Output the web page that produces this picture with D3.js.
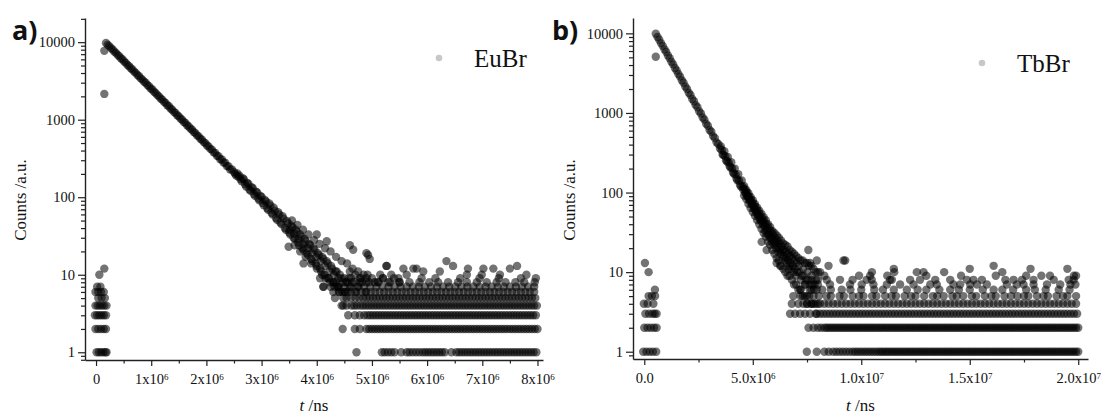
<!DOCTYPE html>
<html>
<head>
<meta charset="utf-8">
<script src="https://cdn.jsdelivr.net/npm/d3@7"></script>
<style>
  body { margin: 0; background: #fff; }
  svg text { font-family: "Liberation Serif", "Times New Roman", serif; fill: #111; }
</style>
</head>
<body>
<svg id="chart" width="1102" height="417"></svg>
<script>
// ---- panel a (EuBr): time in 1e6 ns, counts ----
const euEarly = [[0.01,1],[0.05,1],[0.09,1],[0.13,1],[0.17,1],[0.19,1],
  [-0.01,2],[0.04,2],[0.09,2],[0.14,2],[0.18,2],
  [-0.02,3],[0.02,3],[0.06,3],[0.1,3],[0.14,3],[0.18,3],
  [-0.01,4],[0.03,4],[0.07,4],[0.11,4],[0.15,4],[0.19,4],
  [0.04,5],[0.1,5],[0.16,5],[-0.01,6],[0.04,6],[0.09,6],[0.14,6],
  [0.02,7],[0.08,7],[0.06,10],[0.15,12],[0.15,2150],[0.15,7730]];

const euDecay = [[0.18,9780],[0.21,9260],[0.24,8890],[0.27,8390],[0.30,8050],[0.33,7590],[0.36,7280],[0.39,6870],
  [0.42,6600],[0.45,6210],[0.48,5980],[0.51,5630],[0.54,5410],[0.57,5090],[0.60,4900],[0.63,4610],[0.66,4430],
  [0.69,4170],[0.72,4020],[0.75,3780],[0.78,3640],[0.81,3410],[0.84,3290],[0.87,3090],[0.90,2990],[0.93,2800],
  [0.96,2700],[0.99,2530],[1.02,2450],[1.05,2290],[1.08,2210],[1.11,2080],[1.14,2000],[1.17,1880],[1.20,1815],
  [1.23,1700],[1.26,1645],[1.29,1540],[1.32,1490],[1.35,1395],[1.38,1345],[1.41,1262],[1.44,1220],[1.47,1140],
  [1.50,1104],[1.53,1035],[1.56,998],[1.59,936],[1.62,905],[1.65,848],[1.68,819],[1.71,768],[1.74,741],[1.77,694],
  [1.80,671],[1.83,628],[1.86,609],[1.89,568],[1.92,552],[1.95,514],[1.98,499],[2.01,464],[2.04,453],[2.07,420],
  [2.10,411],[2.13,379],[2.16,373],[2.19,343],[2.22,338],[2.25,309],[2.28,306],[2.31,280],[2.34,279],[2.37,252],
  [2.40,251],[2.43,228],[2.46,229]];

const euTail = [[2.50,212],[2.52,200],[2.54,190],[2.56,203],[2.58,184],[2.60,190],[2.62,170],[2.64,160],[2.66,176],
  [2.68,170],[2.70,147],[2.72,137],[2.74,153],[2.76,149],[2.78,126],[2.80,121],[2.82,135],[2.84,131],[2.86,110],
  [2.88,104],[2.90,118],[2.92,115],[2.94,96],[2.96,91],[2.98,104],[3.00,101],[3.02,84],[3.04,79],[3.06,92],
  [3.08,88],[3.10,72],[3.12,69],[3.14,83],[3.16,78],[3.18,63],[3.20,60],[3.22,73],[3.24,67],[3.26,54],[3.28,51],
  [3.30,64],[3.32,60],[3.34,47],[3.36,45],[3.38,57],[3.40,53],[3.42,40],[3.44,38],[3.46,49],[3.48,46],[3.50,35],
  [3.52,33],[3.54,43],[3.56,41],[3.58,30],[3.60,29],[3.62,38],[3.64,36],[3.66,26],[3.68,24],[3.70,33],[3.72,31],
  [3.74,22],[3.76,21],[3.78,29],[3.80,27],[3.82,19],[3.84,18],[3.86,25],[3.88,24],[3.90,16],[3.92,15],[3.94,22],
  [3.96,21],[3.98,14],[4.00,13],[4.02,19],[4.04,18],[4.06,12],[4.08,11],[4.10,17],[4.12,16],[4.14,10],[4.16,9],
  [4.18,15],[4.20,14],[4.22,9],[4.24,8],[4.26,13],[4.28,12],[4.30,8],[4.32,7],[4.34,11],[4.36,11],[4.38,7],
  [4.40,6],[4.42,10],[4.44,9],[4.46,6],[4.48,5],[4.50,9],[4.52,8],[4.56,6],[4.60,7],[4.64,8],[4.70,6],[4.76,7],
  [4.82,8],[4.88,6],[3.51,38],[3.59,34],[3.67,29],[3.75,25],[3.83,22],[3.91,19],[3.99,17],[4.07,15],[4.15,13],
  [4.23,11],[4.31,10],[4.39,9],[4.47,8],
  [3.55,50],[3.60,24],[3.65,44],[3.70,20],[3.75,38],[3.80,17],[3.85,33],[3.90,14],[3.95,28],[4.00,12],[4.05,25],
  [4.10,10],[4.15,22],[4.20,9],[4.25,20],[4.30,8],[4.35,17],[4.40,7],[4.45,15],[4.50,6],[4.55,14],[4.60,11],
  [4.65,12],[4.70,10],[4.75,11],[4.80,9],[4.85,10],[4.90,8],[5.00,9],[5.10,8],[5.20,9],[5.30,8],[5.40,9],[5.50,8],
  [4.58,9],[4.68,8],[4.78,9],[4.92,10],[5.05,8],[5.15,10],[5.35,10]];

const euScatter = [[3.49,23],[3.76,14],[4.0,33],[4.06,9],[4.12,7],[4.18,27],[4.33,5],[4.48,4],[4.6,24],[4.66,21],
  [4.9,19],[4.96,16],[4.93,18],[5.26,13],[5.57,12],[5.75,12],[5.81,12],[6.35,15],[6.47,13],[6.74,12],[7.02,12],
  [7.2,12],[7.5,12],[7.63,13],[5.63,10],[5.93,11],[6.23,11],[6.72,10],[6.99,10],[7.32,10],[7.8,10],[5.27,13]];

const euRow1 = [4.72,5.18,5.23,5.29,5.35,5.41,5.53,5.63,5.68,5.74,5.80,5.86,5.92,5.97,6.02,6.07,6.12,6.17,6.22,6.27,
  6.32,6.44,6.53,6.58,6.63,6.68,6.73,6.78,6.83,6.88,6.93,6.98,7.03,7.08,7.13,7.18,7.23,7.28,7.33,7.38,7.43,7.48,
  7.53,7.58,7.63,7.68,7.73,7.78,7.83,7.88,7.93,7.98];
const euRow2 = [4.47,4.69,4.78,4.90,4.95,5.00,5.05,5.10,5.15,5.20,5.25,5.30,5.35,5.40,5.45,5.50,5.55,5.60,5.65,5.70,
  5.75,5.80,5.85,5.90,5.95,6.00,6.05,6.10,6.15,6.20,6.25,6.30,6.35,6.40,6.45,6.50,6.55,6.60,6.65,6.70,6.75,6.80,
  6.85,6.90,6.95,7.00,7.05,7.10,7.15,7.20,7.25,7.30,7.35,7.40,7.45,7.50,7.55,7.60,7.65,7.70,7.75,7.80,7.85,7.90,
  7.95,8.00];
const euRow3 = [4.57,4.69,4.78,4.86,4.92,4.97,5.02,5.07,5.12,5.17,5.22,5.27,5.32,5.37,5.42,5.47,5.52,5.57,5.62,5.67,
  5.72,5.77,5.82,5.87,5.92,5.97,6.02,6.07,6.12,6.17,6.22,6.27,6.32,6.37,6.42,6.47,6.52,6.57,6.62,6.67,6.72,6.77,
  6.82,6.87,6.92,6.97,7.02,7.07,7.12,7.17,7.22,7.27,7.32,7.37,7.42,7.47,7.52,7.57,7.62,7.67,7.72,7.77,7.82,7.87,
  7.92,7.97];
const euRow4 = [4.45,4.54,4.63,4.68,4.73,4.79,4.84,4.89,4.94,4.99,5.04,5.09,5.14,5.19,5.24,5.29,5.34,5.39,5.44,5.49,
  5.54,5.59,5.64,5.69,5.74,5.79,5.84,5.89,5.94,5.99,6.04,6.09,6.14,6.19,6.24,6.29,6.34,6.39,6.44,6.49,6.54,6.59,
  6.64,6.69,6.74,6.79,6.84,6.89,6.94,6.99,7.04,7.09,7.14,7.19,7.24,7.29,7.34,7.39,7.44,7.49,7.54,7.59,7.64,7.69,
  7.74,7.79,7.84,7.89,7.94,7.99];
const euRow5 = [4.54,4.62,4.70,4.77,4.84,4.90,4.96,5.02,5.08,5.14,5.20,5.26,5.32,5.38,5.44,5.50,5.56,5.62,5.68,5.74,
  5.80,5.86,5.92,5.98,6.04,6.10,6.16,6.22,6.28,6.34,6.40,6.46,6.52,6.58,6.64,6.70,6.76,6.82,6.88,6.94,7.00,7.06,
  7.12,7.18,7.24,7.30,7.36,7.42,7.48,7.54,7.60,7.66,7.72,7.78,7.84,7.90,7.96];
const euRow6 = [4.30,4.41,4.52,4.62,4.72,4.81,4.90,4.98,5.06,5.14,5.22,5.30,5.38,5.46,5.54,5.62,5.70,5.78,5.86,5.94,
  6.02,6.10,6.18,6.26,6.34,6.42,6.50,6.58,6.66,6.74,6.82,6.90,6.98,7.06,7.14,7.22,7.30,7.38,7.46,7.54,7.62,7.70,
  7.78,7.86,7.94];
const euRow7 = [4.12,4.25,4.38,4.50,4.62,4.74,4.86,4.97,5.08,5.19,5.30,5.41,5.52,5.63,5.74,5.85,5.96,6.07,6.18,6.29,
  6.40,6.51,6.62,6.73,6.84,6.95,7.06,7.17,7.28,7.39,7.50,7.61,7.72,7.83,7.94];
const euRow8 = [4.35,4.55,4.78,4.95,5.12,5.33,5.50,5.68,5.86,6.04,6.20,6.38,6.56,6.72,6.90,7.08,7.26,7.42,7.60,7.76,7.95];
const euRow9 = [4.62,4.90,5.20,5.48,5.90,6.15,6.60,6.95,7.30,7.70,7.97];

// ---- panel b (TbBr) ----
const tbEarly = [[-0.05,1],[0.1,1],[0.25,1],[0.4,1],[0.55,1],[0.0,2],[0.15,2],[0.3,2],[0.45,2],[0.57,2],
  [0.05,3],[0.22,3],[0.38,3],[0.48,3],[0.57,3],[-0.02,4],[0.15,4],[0.42,4],[0.2,5],[0.35,5],[0.5,5],
  [0.49,6],[0.2,10],[0.03,13],[0.53,5080]];

const tbDecay = [[0.53,9900],[0.61,9010],[0.69,8320],[0.77,7540],[0.85,6960],[0.93,6300],[1.01,5830],[1.09,5270],
  [1.17,4880],[1.25,4400],[1.33,4080],[1.41,3680],[1.49,3420],[1.57,3080],[1.65,2860],[1.73,2570],[1.81,2395],
  [1.89,2150],[1.97,2005],[2.05,1795],[2.13,1678],[2.21,1500],[2.29,1405],[2.37,1254],[2.45,1177],[2.53,1048],
  [2.61,985],[2.69,876],[2.77,825],[2.85,732],[2.93,692],[3.01,612],[3.09,580],[3.17,512],[3.25,484],[3.33,427],
  [3.41,408],[3.49,357],[3.57,341],[3.65,297],[3.73,286],[3.81,246],[3.89,239],[3.97,206],[4.05,201],[4.13,172],
  [4.21,168],[4.29,143],[4.37,141],[4.45,119],[4.53,118],[3.53,380],[3.61,300],[3.69,330],[3.77,255],[3.85,280],
  [3.93,215],[4.01,240],[4.09,178],[4.17,200],[4.25,150],[4.33,170],[4.41,125],[4.49,142]];

const tbTail = [[4.6,121],[4.6,92],[4.7,83],[4.7,108],[4.8,98],[4.8,72],[4.9,64],[4.9,88],[5.0,80],[5.0,57],
  [5.1,51],[5.1,72],[5.2,65],[5.2,45],[5.3,40],[5.3,59],[5.4,54],[5.4,35],[5.5,31],[5.5,49],[5.6,45],[5.6,28],
  [5.7,24],[5.7,40],[5.8,37],[5.8,22],[5.9,19],[5.9,33],[6.0,31],[6.0,17],[6.1,15],[6.1,29],[6.2,27],[6.2,14],
  [6.3,12],[6.3,25],[6.4,23],[6.4,11],[6.5,10],[6.5,22],[6.6,21],[6.6,9],[6.7,9],[6.7,19],[6.8,18],[6.8,8],
  [6.9,7],[6.9,17],[7.0,16],[7.0,7],[7.1,6],[7.1,15],[7.2,14],[7.2,6],[7.3,5],[7.3,14],[7.4,13],[7.4,5],
  [7.5,4],[7.5,13],[7.6,12],[7.6,5],[7.7,4],[7.7,12],[7.8,11],[7.8,4],[7.9,3],[7.9,10],[8.0,10],[8.0,4],
  [4.55,110],[4.65,100],[4.75,90],[4.85,80],[4.95,72],[5.05,64],[5.15,58],[5.25,52],[5.35,46],[5.45,42],
  [5.55,38],[5.65,34],[5.75,30],[5.85,27],[5.95,25],[6.05,23],[6.15,21],[6.25,19],[6.35,18],[6.45,16],
  [6.55,15],[6.65,14],[6.75,13],[6.85,12],[6.95,11],
  [4.62,112],[4.68,98],[4.72,101],[4.78,88],[4.82,90],[4.88,78],[4.92,81],[4.98,70],[5.02,73],[5.08,62],
  [5.12,66],[5.18,55],[5.22,59],[5.28,49],[5.32,53],[5.38,44],[5.42,48],[5.48,39],
  [5.52,44],[5.58,33],[5.62,40],[5.68,30],[5.72,36],[5.78,27],[5.82,33],[5.88,24],[5.92,30],[5.98,22],
  [6.02,27],[6.08,20],[6.12,25],[6.18,18],[6.22,23],[6.28,17],[6.32,21],[6.38,15],[6.42,19],[6.48,14],
  [6.52,18],[6.58,13],[6.62,17],[6.68,12],[6.72,16],[6.78,11],[6.82,15],[6.88,10],[6.92,14],[6.98,9],
  [7.05,10],[7.15,10],[7.25,9],[7.35,9],[7.45,8],[7.55,8],[7.65,7],[7.75,7],[7.85,7],[7.95,6],
  [7.02,13],[7.12,12],[7.22,8],[7.32,11],[7.42,7],[7.52,10],[7.62,6],[7.72,9],[7.82,6],[7.92,8]];

const tbScatter = [[5.41,24],[5.64,19],[6.26,12],[6.1,13],[6.64,11],[7.56,19],[7.64,13],[7.95,14],[8.49,12],
  [9.18,14],[8.1,10],[10.41,9],[11.5,11],[9.6,8],[11.33,8],[9.26,14],[16.1,12],[12.56,10],[12.87,10],
  [13.82,10],[10.49,10],[11.52,10],[16.5,10],[17.8,11],[19.5,11],[15.0,11]];

const tbRow1 = [7.49,7.95,8.3,8.5,8.7,8.85,9.0,9.15,9.3,9.45,9.6,9.72,9.84,9.96,10.08,10.2,10.32,10.44,10.56,10.68,
  10.8,10.9,11.0,11.1,11.2,11.3,11.4,11.5,11.6,11.7,11.8,11.9,12.0,12.1,12.2,12.3,12.4,12.5,12.6,12.7,12.8,12.9,
  13.0,13.1,13.2,13.3,13.4,13.5,13.6,13.7,13.8,13.9,14.0,14.1,14.2,14.3,14.4,14.5,14.6,14.7,14.8,14.9,15.0,15.1,
  15.2,15.3,15.4,15.5,15.6,15.7,15.8,15.9,16.0,16.1,16.2,16.3,16.4,16.5,16.6,16.7,16.8,16.9,17.0,17.1,17.2,17.3,
  17.4,17.5,17.6,17.7,17.8,17.9,18.0,18.1,18.2,18.3,18.4,18.5,18.6,18.7,18.8,18.9,19.0,19.1,19.2,19.3,19.4,19.5,
  19.6,19.7,19.8,19.9,20.0];
const tbRow2 = [7.57,7.8,8.0,8.15,8.3,8.4,8.5,8.6,8.7,8.8,8.9,9.0,9.1,9.2,9.3,9.4,9.5,9.6,9.7,9.8,9.9,10.0,10.1,
  10.2,10.3,10.4,10.5,10.6,10.7,10.8,10.9,11.0,11.1,11.2,11.3,11.4,11.5,11.6,11.7,11.8,11.9,12.0,12.1,12.2,12.3,
  12.4,12.5,12.6,12.7,12.8,12.9,13.0,13.1,13.2,13.3,13.4,13.5,13.6,13.7,13.8,13.9,14.0,14.1,14.2,14.3,14.4,14.5,
  14.6,14.7,14.8,14.9,15.0,15.1,15.2,15.3,15.4,15.5,15.6,15.7,15.8,15.9,16.0,16.1,16.2,16.3,16.4,16.5,16.6,16.7,
  16.8,16.9,17.0,17.1,17.2,17.3,17.4,17.5,17.6,17.7,17.8,17.9,18.0,18.1,18.2,18.3,18.4,18.5,18.6,18.7,18.8,18.9,
  19.0,19.1,19.2,19.3,19.4,19.5,19.6,19.7,19.8,19.9,20.0];
const tbRow3 = [6.72,6.95,7.18,7.41,7.64,7.95,8.1,8.25,8.4,8.55,8.7,8.85,9.0,9.15,9.3,9.45,9.6,9.75,9.9,10.05,10.2,
  10.35,10.5,10.65,10.8,10.95,11.1,11.25,11.4,11.55,11.7,11.85,12.0,12.15,12.3,12.45,12.6,12.75,12.9,13.05,13.2,
  13.35,13.5,13.65,13.8,13.95,14.1,14.25,14.4,14.55,14.7,14.85,15.0,15.15,15.3,15.45,15.6,15.75,15.9,16.05,16.2,
  16.35,16.5,16.65,16.8,16.95,17.1,17.25,17.4,17.55,17.7,17.85,18.0,18.15,18.3,18.45,18.6,18.75,18.9,19.05,19.2,
  19.35,19.5,19.65,19.8,19.95];
const tbRow4 = [6.8,7.1,7.33,7.5,7.7,7.9,8.1,8.3,8.5,8.7,8.9,9.1,9.3,9.5,9.7,9.9,10.1,10.3,10.5,10.7,10.9,11.1,11.3,
  11.5,11.7,11.9,12.1,12.3,12.5,12.7,12.9,13.1,13.3,13.5,13.7,13.9,14.1,14.3,14.5,14.7,14.9,15.1,15.3,15.5,15.7,
  15.9,16.1,16.3,16.5,16.7,16.9,17.1,17.3,17.5,17.7,17.9,18.1,18.3,18.5,18.7,18.9,19.1,19.3,19.5,19.7,19.9];
const tbRow5 = [6.87,7.2,7.49,7.8,8.05,8.4,8.6,9.0,9.2,9.6,9.9,10.1,10.5,10.7,11.1,11.4,11.6,12.0,12.3,12.5,12.9,
  13.3,13.5,13.8,14.2,14.4,14.7,15.1,15.3,15.7,16.0,16.2,16.6,16.9,17.2,17.5,17.7,18.1,18.4,18.6,19.0,19.3,19.5,19.9];
const tbRow6 = [7.2,7.7,8.2,8.6,9.1,9.5,10.0,10.6,11.0,11.5,12.1,12.6,13.0,13.6,14.1,14.5,15.0,15.6,16.1,16.5,17.0,
  17.6,18.0,18.5,19.1,19.6];
const tbRow7 = [7.4,8.0,8.56,9.48,10.02,10.56,11.18,11.79,12.41,13.18,13.48,14.25,14.56,15.02,15.33,15.79,16.71,
  17.17,17.48,17.94,18.56,19.17,19.64,19.87];
const tbRow8 = [7.7,8.0,8.41,9.02,10.25,10.48,11.41,12.25,12.71,13.41,14.1,14.87,15.17,15.56,16.64,17.02,17.41,
  17.94,18.87,19.56,19.79];
const tbRow9 = [8.3,9.9,11.2,13.0,14.6,16.2,17.6,18.3,18.7,19.8,19.9];

// ---- ticks ----
const euXTicks = [0, 1, 2, 3, 4, 5, 6, 7, 8];
const euXMant = ["0", "1", "2", "3", "4", "5", "6", "7", "8"];
const euXExp = ["", "6", "6", "6", "6", "6", "6", "6", "6"];
const euXMinor = [0.5, 1.5, 2.5, 3.5, 4.5, 5.5, 6.5, 7.5];
const tbXTicks = [0, 5, 10, 15, 20];
const tbXMant = ["0.0", "5.0", "1.0", "1.5", "2.0"];
const tbXExp = ["", "6", "7", "7", "7"];
const tbXMinor = [2.5, 7.5, 12.5, 17.5];
const yTicks = [1, 10, 100, 1000, 10000];
const yLabels = ["1", "10", "100", "1000", "10000"];

const serif = '"Liberation Serif", "Times New Roman", serif';
const svg = d3.select('#chart');

function drawPanel(p) {
    const x = d3.scaleLinear().domain(p.xDomain).range(p.xRange);
    const y = d3.scaleLog().domain(p.yDomain).range(p.yRange);
    const g = svg.append('g');

    // all points, the background rows are count 1..9
    const pts = [].concat(p.early, p.decay, p.tail, p.scatter);
    p.rows.forEach(function (row, i) {
        row.forEach(function (t) { pts.push([t, i + 1]); });
    });
    g.append('g').selectAll('circle')
        .data(pts)
        .join('circle')
        .attr('cx', d => x(d[0]))
        .attr('cy', d => y(d[1]))
        .attr('r', 4.2)
        .attr('fill', '#000')
        .attr('fill-opacity', 0.55);

    // x axis
    const gx = g.append('g')
        .attr('transform', 'translate(0,' + p.yRange[0] + ')')
        .call(d3.axisBottom(x).tickValues(p.xTicks).tickSize(6).tickSizeOuter(0)
            .tickPadding(7.5).tickFormat(() => ''));
    gx.selectAll('.tick text').each(function (d, i) {
        const t = d3.select(this);
        t.append('tspan').text(p.xMant[i] + (p.xExp[i] ? 'x10' : ''));
        if (p.xExp[i]) {
            t.append('tspan').attr('dy', '-0.42em').style('font-size', '9px').text(p.xExp[i]);
        }
    });
    g.append('g')
        .attr('transform', 'translate(0,' + p.yRange[0] + ')')
        .call(d3.axisBottom(x).tickValues(p.xMinor).tickSize(3.5).tickSizeOuter(0).tickFormat(() => ''))
        .call(a => a.select('.domain').remove());

    // y axis
    g.append('g')
        .attr('transform', 'translate(' + p.xRange[0] + ',0)')
        .call(d3.axisLeft(y).tickValues(yTicks).tickSize(7).tickSizeOuter(0).tickPadding(3)
            .tickFormat((d, i) => yLabels[i]));
    const minor = [];
    for (let e = -1; e <= 4; e++) {
        for (let m = 2; m <= 9; m++) {
            const v = m * Math.pow(10, e);
            if (v > p.yDomain[0] && v < p.yDomain[1]) minor.push(v);
        }
    }
    g.append('g')
        .attr('transform', 'translate(' + p.xRange[0] + ',0)')
        .call(d3.axisLeft(y).tickValues(minor).tickSize(4).tickSizeOuter(0).tickFormat(() => ''))
        .call(a => a.select('.domain').remove());

    g.selectAll('.domain').attr('stroke', '#222').attr('stroke-width', 1.4);
    g.selectAll('.tick line').attr('stroke', '#222').attr('stroke-width', 1.2);
    g.selectAll('.tick text')
        .style('font-family', serif)
        .style('font-size', '14.5px')
        .style('fill', '#111');

    // axis titles
    g.append('text')
        .attr('transform', 'translate(' + p.yTitleX + ',200) rotate(-90)')
        .attr('text-anchor', 'middle')
        .style('font-size', '17px')
        .text('Counts /a.u.');
    const xt = g.append('text')
        .attr('x', (p.xRange[0] + p.xRange[1]) / 2)
        .attr('y', 411)
        .attr('text-anchor', 'middle')
        .style('font-size', '17px');
    xt.append('tspan').style('font-style', 'italic').text('t');
    xt.append('tspan').text(' /ns');

    // panel letter
    g.append('text')
        .attr('x', p.letterX).attr('y', 40)
        .style('font-family', '"Open Sans", "DejaVu Sans", sans-serif')
        .style('font-weight', 'bold')
        .style('font-size', '27px')
        .text(p.letter);

    // legend
    g.append('circle')
        .attr('cx', p.legend[0]).attr('cy', p.legend[1]).attr('r', 3.3)
        .attr('fill', '#c8c8c8');
    g.append('text')
        .attr('x', p.legend[0] + 35).attr('y', p.legend[1] + 9)
        .style('font-size', '25px')
        .text(p.name);
}

drawPanel({
    name: 'EuBr', letter: 'a)', letterX: 12, yTitleX: 26, legend: [439, 58],
    xDomain: [-0.2, 8.1], xRange: [85, 543],
    yDomain: [0.795, 20500], yRange: [360, 18],
    xTicks: euXTicks, xMant: euXMant, xExp: euXExp, xMinor: euXMinor,
    early: euEarly, decay: euDecay, tail: euTail, scatter: euScatter,
    rows: [euRow1, euRow2, euRow3, euRow4, euRow5, euRow6, euRow7, euRow8, euRow9]
});

drawPanel({
    name: 'TbBr', letter: 'b)', letterX: 552, yTitleX: 575, legend: [982, 63],
    xDomain: [-0.52, 20.45], xRange: [633, 1088],
    yDomain: [0.81, 15600], yRange: [359, 18],
    xTicks: tbXTicks, xMant: tbXMant, xExp: tbXExp, xMinor: tbXMinor,
    early: tbEarly, decay: tbDecay, tail: tbTail, scatter: tbScatter,
    rows: [tbRow1, tbRow2, tbRow3, tbRow4, tbRow5, tbRow6, tbRow7, tbRow8, tbRow9]
});
</script>
</body>
</html>
